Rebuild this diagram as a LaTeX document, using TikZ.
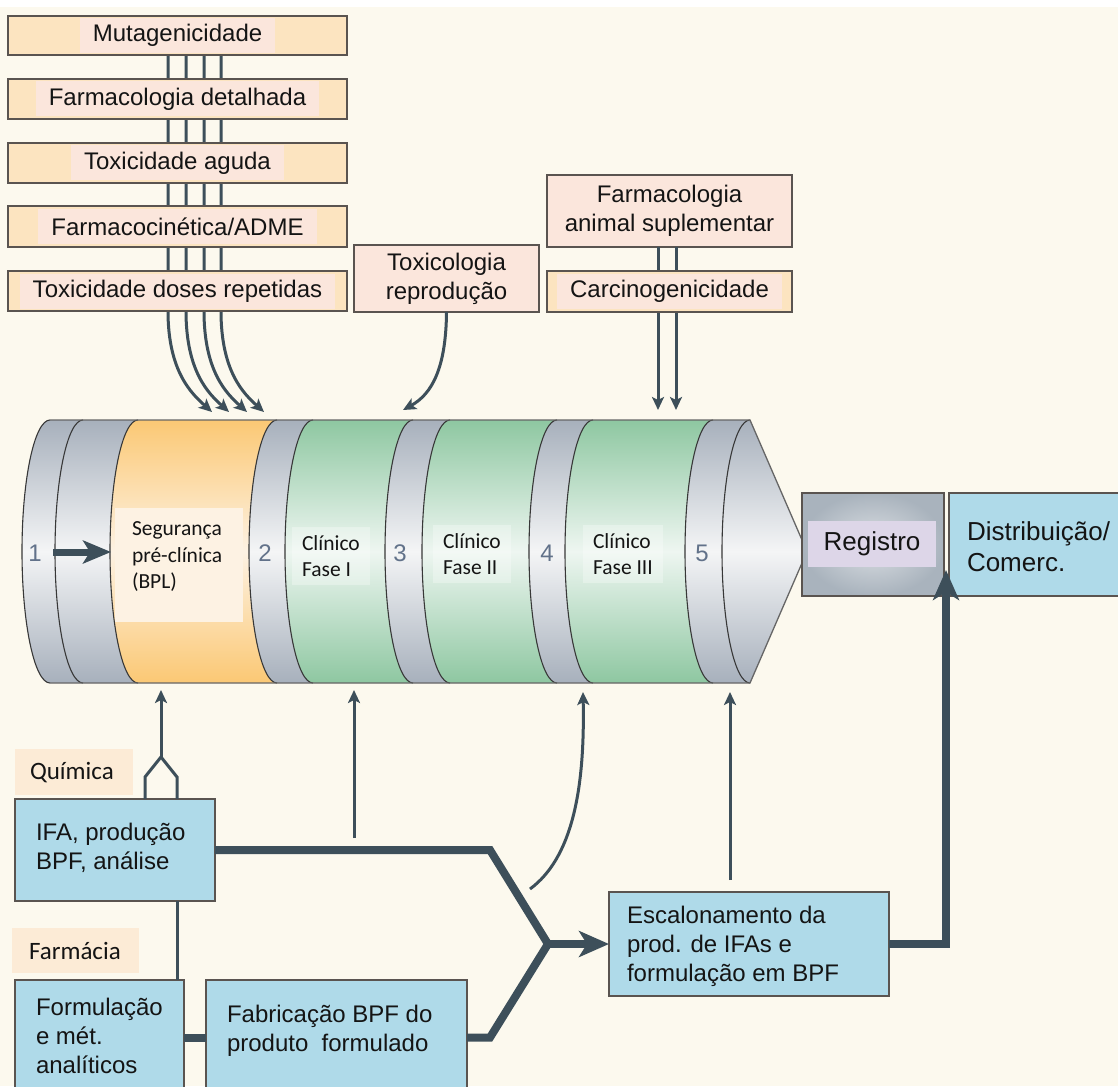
\documentclass[tikz,border=0pt]{standalone}
\usepackage{fontspec}
\setmainfont{Liberation Sans}
\newfontfamily\calfont{Carlito}
\usetikzlibrary{arrows.meta,calc}

\definecolor{bgcream}{HTML}{FCF9EE}
\definecolor{inkline}{HTML}{3D4F5A}
\definecolor{peach}{HTML}{FCE4C0}
\definecolor{peachpink}{HTML}{FBE6DC}
\definecolor{boxedge}{HTML}{5A5450}
\definecolor{skyblue}{HTML}{AFDAE9}
\definecolor{labelpeach}{HTML}{FCEBD6}
\definecolor{gbandedge}{HTML}{A7B0BC}
\definecolor{gbandmid}{HTML}{F4F5F6}
\definecolor{orangeedge}{HTML}{FBC874}
\definecolor{orangemid}{HTML}{FDF2E3}
\definecolor{greenedge}{HTML}{8EC7A1}
\definecolor{greenmid}{HTML}{EEF6F1}
\definecolor{stagenum}{HTML}{62728A}
\definecolor{regcore}{HTML}{DCE0E4}
\definecolor{regrim}{HTML}{A9B3BD}
\definecolor{lavender}{HTML}{DDD6E8}

\newcommand\boxfont{\fontsize{24}{29}\selectfont}
% one ring of the pipeline: between two left-bulging elliptic arcs
\newcommand\ringband[3]{\path[#3] (#1,420) arc[start angle=270,end angle=90,x radius=28,y radius=131.5] -- (#2,683) arc[start angle=90,end angle=270,x radius=28,y radius=131.5] -- cycle;}

\begin{document}
\begin{tikzpicture}[x=1pt,y=-1pt,
  every node/.style={inner sep=0pt,outer sep=0pt,text=black!92},
  studybox/.style={draw=boxedge,line width=1.3pt,fill=peach,anchor=north west},
  studyhl/.style={fill=peachpink,font=\boxfont,minimum height=35pt,inner xsep=13pt},
  bluebox/.style={draw=boxedge,line width=1.5pt,fill=skyblue,anchor=north west},
  boxtxt/.style={font=\boxfont,align=left,anchor=west},
  stagetxt/.style={font=\calfont\fontsize{21.5}{26.5}\selectfont,align=left,anchor=west},
  stagehl/.style={stagetxt,fill=white,fill opacity=0.3,text opacity=1,inner xsep=10pt,inner ysep=8pt},
  numlabel/.style={font=\fontsize{24}{24}\selectfont,text=stagenum},
  grouplabel/.style={fill=labelpeach,anchor=north west,font=\calfont\fontsize{25}{30}\selectfont,text depth=0pt},
  link/.style={draw=inkline,line width=3pt},
  linkarrow/.style={link,-{Stealth[length=13pt,width=12pt,inset=3pt]}},
  flow/.style={draw=inkline,line width=8pt,line join=miter},
  flowarrow/.style={flow,-{Stealth[length=30pt,width=26pt,inset=8pt]}},
  gband/.style={top color=gbandedge,bottom color=gbandedge,middle color=gbandmid},
  oband/.style={top color=orangeedge,bottom color=orangeedge,middle color=orangemid},
  grband/.style={top color=greenedge,bottom color=greenedge,middle color=greenmid},
  arcline/.style={draw=black!78,line width=1.1pt},
  rimline/.style={draw=black!60,line width=1.3pt}]

\useasboundingbox (0,0) rectangle (1118,1086);
\clip (0,0) rectangle (1118,1086);
\fill[bgcream] (0,0) rectangle (1118,1086);
\fill[white] (0,0) rectangle (1118,7);

% ---------- preclinical studies feeding the pipeline ----------
\coordinate (va) at (168,55);  \coordinate (ta) at (212,412);
\coordinate (vb) at (186,55);  \coordinate (tb) at (229,412);
\coordinate (vc) at (204,55);  \coordinate (tc) at (247,412);
\coordinate (vd) at (221,55);  \coordinate (td) at (264,412);
\foreach \v/\t in {va/ta,vb/tb,vc/tc,vd/td}{
  \draw[linkarrow] (\v) -- (\v |- 0,311) .. controls (\v |- 0,372) and ($(\t)+(-20,-18)$) .. (\t);
}

\node[studybox,minimum width=339pt,minimum height=39pt] (mutbox) at (8,16) {};
\node[studyhl] (mut) at (mutbox.center) {Mutagenicidade};
\node[studybox,minimum width=339pt,minimum height=40pt] (farmbox) at (8,79) {};
\node[studyhl] (farm) at (farmbox.center) {Farmacologia detalhada};
\node[studybox,minimum width=339pt,minimum height=40pt] (agbox) at (8,143) {};
\node[studyhl] (ag) at (agbox.center) {Toxicidade aguda};
\node[studybox,minimum width=339pt,minimum height=41pt] (admebox) at (8,206) {};
\node[studyhl] (adme) at (admebox.center) {Farmacocinética/ADME};
\node[studybox,minimum width=339pt,minimum height=40pt] (repbox) at (8,271) {};
\node[studyhl] (rep) at (repbox.center) {Toxicidade doses repetidas};

% reproductive toxicology
\node[studybox,fill=peachpink,minimum width=185pt,minimum height=67pt,font=\boxfont,align=center] (repro) at (354,245) {Toxicologia\\reprodução};
\coordinate (reprotip) at (403,410);
\draw[linkarrow] (repro.south) .. controls (446,368) and (432,394) .. (reprotip);

% long-term animal studies
\node[studybox,fill=peachpink,minimum width=245pt,minimum height=72pt,font=\boxfont,align=center] (supl) at (547,175) {Farmacologia\\animal suplementar};
\coordinate (ca) at (658,410); \coordinate (cb) at (676,410);
\draw[linkarrow] (supl.south -| ca) -- (ca);
\draw[linkarrow] (supl.south -| cb) -- (cb);
\node[studybox,minimum width=245pt,minimum height=41pt] (carcbox) at (547,271) {};
\node[studyhl] (carc) at (carcbox.center) {Carcinogenicidade};

% ---------- the development pipeline ----------
\ringband{50}{83}{gband}
\ringband{83}{138}{gband}
\ringband{138}{277}{oband}
\ringband{277}{313}{gband}
\ringband{313}{413}{grband}
\ringband{413}{450}{gband}
\ringband{450}{557}{grband}
\ringband{557}{593}{gband}
\ringband{593}{713}{grband}
\ringband{713}{750}{gband}
\path[gband] (750,420) arc[start angle=270,end angle=90,x radius=28,y radius=131.5] -- (807,551.5) -- cycle;
\foreach \ax in {50,83,138,277,313,413,450,557,593,713,750}{
  \draw[arcline] (\ax,420) arc[start angle=270,end angle=90,x radius=28,y radius=131.5];
}
\draw[rimline] (50,420) -- (750,420) -- (807,551.5) -- (750,683) -- (50,683);

\node[numlabel] (n1) at (35,553) {1};
\node[numlabel] (n2) at (265,553) {2};
\node[numlabel] (n3) at (400,553) {3};
\node[numlabel] (n4) at (547,553) {4};
\node[numlabel] (n5) at (702,553) {5};

\fill[orangemid] (115,508) rectangle (243,622);
\node[stagetxt] (seg) at (132,557) {Segurança\\pré-clínica\\(BPL)};
\node[stagehl] (ph1) at (292,556) {Clínico\\Fase I};
\node[stagehl] (ph2) at (433,554) {Clínico\\Fase II};
\node[stagehl] (ph3) at (583,554) {Clínico\\Fase III};

\coordinate (s1) at (53,552); \coordinate (s1tip) at (111,552);
\draw[draw=inkline,line width=7pt,-{Stealth[length=28pt,width=23pt,inset=7pt]}] (s1) -- (s1tip);

% registration and market
\node[draw=boxedge,line width=1.3pt,inner color=regcore,outer color=regrim,anchor=north west,minimum width=142pt,minimum height=103pt] (regbox) at (802,493) {};
\node[fill=lavender,minimum width=128pt,minimum height=46pt,font=\fontsize{26}{30}\selectfont] (reg) at (872,544) {Registro};
\node[bluebox,minimum width=190pt,minimum height=103pt] (distbox) at (949,493) {};
\node[boxtxt,font=\fontsize{26}{31}\selectfont] (dist) at (967,547) {Distribuição/\\Comerc.};

% ---------- chemistry and pharmacy ----------
\node[grouplabel,minimum width=118pt,minimum height=46pt] (quimbox) at (15,749) {};
\node[anchor=west,font=\calfont\fontsize{25}{30}\selectfont] (quim) at (30,773) {Química};
\node[grouplabel,minimum width=127pt,minimum height=45pt] (farmabox) at (12,928) {};
\node[anchor=west,font=\calfont\fontsize{25}{30}\selectfont] (farma) at (29,951) {Farmácia};

\node[bluebox,minimum width=200pt,minimum height=102pt] (ifa) at (15,799) {};
\node[boxtxt] (ifat) at (36,848) {IFA, produção\\BPF, análise};
\node[bluebox,minimum width=169pt,minimum height=115pt] (form) at (15,980) {};
\node[boxtxt] (formt) at (36,1036) {Formulação\\e mét.\\analíticos};
\node[bluebox,minimum width=261pt,minimum height=115pt] (fab) at (206,980) {};
\node[boxtxt] (fabt) at (227,1031) {Fabricação BPF do\\produto\ \ formulado};
\node[bluebox,minimum width=280pt,minimum height=104pt] (esc) at (609,892) {};
\node[boxtxt] (esct) at (627,946) {Escalonamento da\\prod. de IFAs e\\formulação em BPF};

% API supply branches into the preclinical stage
\coordinate (apex) at (161,757);
\coordinate (pretip) at (161,690);
\draw[link,line join=miter] ([xshift=30pt]ifa.north) -- ++(0,-22) -- (apex) -- ([xshift=62pt,yshift=22pt]ifa.north) -- ([xshift=62pt]ifa.north);
\draw[linkarrow] (apex) -- (pretip);
\draw[link] ([xshift=62pt]ifa.south) -- ([xshift=62pt]ifa.south |- form.north);

% free-standing supply arrows under the clinical stages
\coordinate (p1a) at (354,838); \coordinate (p1b) at (354,690);
\draw[linkarrow] (p1a) -- (p1b);
\coordinate (p2a) at (530,889); \coordinate (p2b) at (583,692);
\draw[linkarrow] (p2a) .. controls (572,858) and (585,790) .. (p2b);
\coordinate (p3a) at (730,880); \coordinate (p3b) at (730,692);
\draw[linkarrow] (p3a) -- (p3b);

% main material flow
\coordinate (bendA) at (490,850);
\coordinate (bendB) at (490,1037.5);
\coordinate (join) at (548,944);
\draw[flow] (ifa.east) -- (bendA) -- (join) -- (bendB) -- (fab.east);
\draw[flow] (form.east |- fab.east) -- (fab.west);
\draw[flowarrow] (join) -- (esc.west);
\coordinate (disttip) at (946,570);
\draw[flowarrow] (esc.east) -| (disttip);

\end{tikzpicture}
\end{document}
